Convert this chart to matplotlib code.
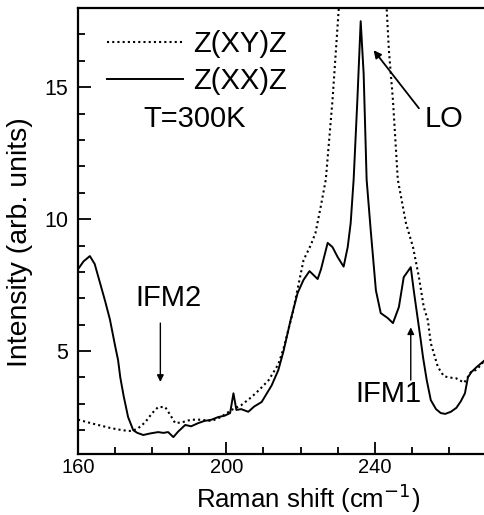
import matplotlib
matplotlib.use("Agg")
import matplotlib.pyplot as plt
from matplotlib.ticker import MultipleLocator

plt.rcParams['font.family'] = ['Liberation Sans', 'DejaVu Sans']

# Z(XX)Z (solid)
x_xx = [160, 161.5, 163.2, 164.5, 165.9, 167.3, 168.6, 170, 170.8, 171.4, 172.3, 173.5, 174.9, 176, 177.6,
        179.5, 181.6, 183, 184.3, 185.7, 187, 188.9, 190.5, 192.4, 194, 196, 197.8, 199.5, 201, 201.9,
        202.7, 204, 205.9, 207.5, 209.5, 212.2, 214, 215.4, 217.3, 219.2, 220.8, 222.4, 224.6, 225.5,
        227.3, 228.6, 230, 231.6, 232.7, 233.5, 234.3, 235.3, 236.2, 237, 237.8, 238.9, 240.3, 241.6,
        243.5, 244.9, 246.5, 247.8, 249.7, 250.5, 252.4, 253, 254, 255.1, 256.5, 257.8, 259, 260.5,
        262, 263.2, 264.3, 265.1, 266, 267.5, 269.7]
y_xx = [8.1, 8.4, 8.6, 8.3, 7.6, 6.9, 6.2, 5.2, 4.66, 4.0, 3.3, 2.5, 2.0, 1.9, 1.82,
        1.88, 1.93, 1.9, 1.93, 1.74, 1.95, 2.2, 2.15, 2.27, 2.35, 2.4, 2.5, 2.55, 2.65, 3.4,
        2.77, 2.8, 2.7, 2.9, 3.07, 3.7, 4.28, 5.0, 6.17, 7.2, 7.7, 8.03, 7.73, 8.1,
        9.1, 8.94, 8.56, 8.2, 8.94, 9.85, 11.5, 14.5, 17.5, 15.5, 11.5, 9.58, 7.3, 6.44,
        6.25, 6.06, 6.67, 7.8, 8.18, 7.3, 5.4, 4.77, 3.9, 3.14, 2.8, 2.65, 2.62, 2.7,
        2.85, 3.1, 3.4, 4.0, 4.2, 4.4, 4.66]

# Z(XY)Z (dotted)
x_xy = [160, 164, 168.9, 172, 174.3, 176, 178.1, 180, 181.6, 183.5, 185, 186.2, 188, 190.5, 193, 196,
        198.5, 201.4, 204, 206.8, 209, 211.4, 214, 215.4, 217.8, 220.8, 222.7, 224, 225.4, 226.8,
        228.6, 230.3, 233, 236.5, 240, 243.2, 243.8, 244.9, 246.2, 248.4, 250.3, 251.9, 253.2,
        254.3, 255.1, 257, 258.6, 260, 261.9, 264.1, 265.9, 267.5, 269.7]
y_xy = [2.4, 2.25, 2.08, 2.0, 1.97, 2.05, 2.3, 2.65, 2.88, 2.88, 2.55, 2.27, 2.3, 2.4, 2.4, 2.35,
        2.5, 2.77, 2.95, 3.26, 3.55, 3.9, 4.5, 5.1, 6.4, 8.45, 9.0, 9.47, 10.45, 11.5,
        14.5, 18, 26, 35, 27, 18, 16.4, 14.5, 11.5, 9.85, 8.94, 7.8, 6.67,
        6.17, 5.3, 4.4, 4.05, 4.0, 3.97, 3.8, 4.2, 4.3, 4.66]

x_ticks = [160, 200, 240]
y_ticks = [5, 10, 15]

fig = plt.figure(figsize=(4.84, 5.15), dpi=100)
ax = fig.add_axes([78/484, 1-454/515, 1-78/484+0.002, (454-8)/515])

ax.plot(x_xy, y_xy, color='black', lw=1.5, linestyle=(0, (1, 1.5)), label='Z(XY)Z')
ax.plot(x_xx, y_xx, color='black', lw=1.4, label='Z(XX)Z')

ax.set_xlim(160, 269.7)
ax.set_ylim(1.1, 18.0)
ax.set_xticks(x_ticks)
ax.set_yticks(y_ticks)
ax.xaxis.set_minor_locator(MultipleLocator(10))
ax.yaxis.set_minor_locator(MultipleLocator(1))
ax.tick_params(which='both', direction='in', top=False, right=False, labelsize=15.5, width=1.3)
ax.tick_params(which='major', length=9, pad=7)
ax.tick_params(axis='x', which='major', pad=3, labelsize=14.5)
ax.tick_params(which='minor', length=5)
for s in ['left', 'bottom', 'top']:
    ax.spines[s].set_linewidth(1.6)
ax.spines['right'].set_visible(False)

ax.set_xlabel('Raman shift (cm$^{-1}$)', fontsize=18.5)
ax.xaxis.set_label_coords(0.564, -0.1205)
ax.xaxis.label.set_verticalalignment('baseline')
ax.set_ylabel('Intensity (arb. units)', fontsize=20.5)
ax.yaxis.set_label_coords(-0.111, 0.476)

leg = ax.legend(loc='upper left', bbox_to_anchor=(0.043, 0.976), frameon=False, fontsize=21,
                handlelength=2.6, handletextpad=0.35, labelspacing=0.3, borderaxespad=0)

ax.text(0.16, 0.751, 'T=300K', transform=ax.transAxes, fontsize=21, va='center', ha='left')

ax.text(258.6, 13.8, 'LO', fontsize=21, ha='center', va='center')
ax.annotate('', xy=(239.7, 16.4), xytext=(251.9, 14.2),
            arrowprops=dict(arrowstyle='-|>', color='black', lw=1.3, shrinkA=0, shrinkB=0, mutation_scale=11))
ax.text(184.3, 7.0, 'IFM2', fontsize=21, ha='center', va='center')
ax.annotate('', xy=(182.2, 3.83), xytext=(182.2, 6.06),
            arrowprops=dict(arrowstyle='-|>', color='black', lw=1.0, shrinkA=0, shrinkB=0, mutation_scale=10))
ax.text(243.8, 3.37, 'IFM1', fontsize=21, ha='center', va='center')
ax.annotate('', xy=(249.7, 5.9), xytext=(249.7, 3.9),
            arrowprops=dict(arrowstyle='-|>', color='black', lw=1.0, shrinkA=0, shrinkB=0, mutation_scale=10))

fig.savefig('out.png', dpi=100)
